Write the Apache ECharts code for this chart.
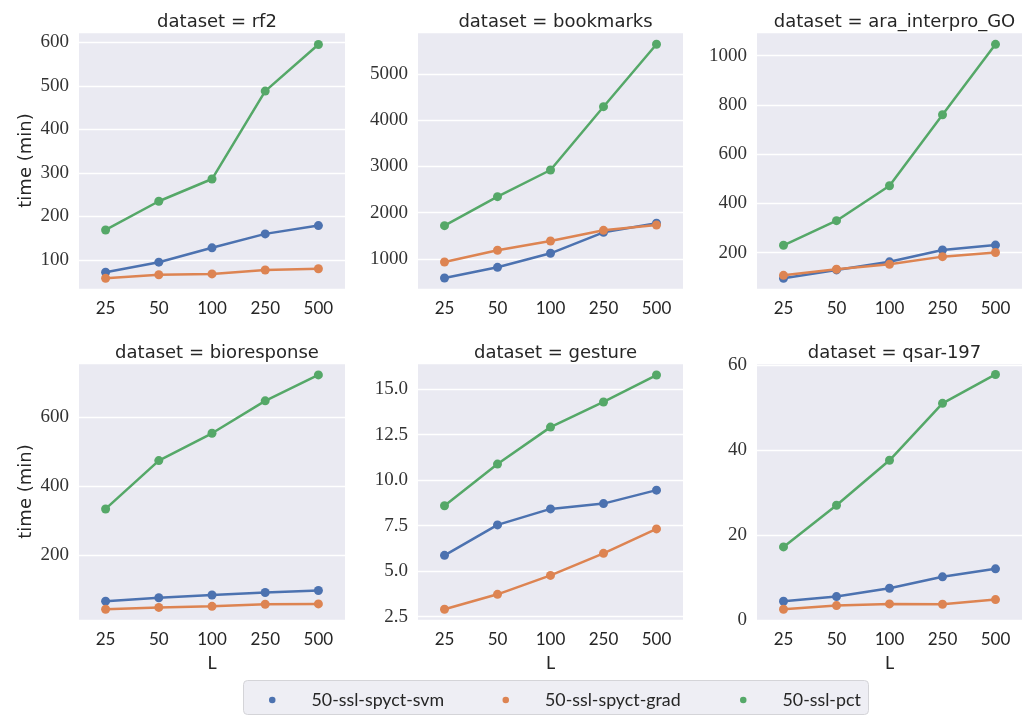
<!DOCTYPE html>
<html>
<head>
<meta charset="utf-8">
<script src="https://cdn.jsdelivr.net/npm/echarts@6/dist/echarts.min.js"></script>
<style>
html,body{margin:0;padding:0;background:#fff;}
#chart{width:1027px;height:715px;}
</style>
</head>
<body>
<div id="chart"></div>
<script>
// ---- data ----
var categories = ['25', '50', '100', '250', '500'];
var datasets = ['rf2', 'bookmarks', 'ara_interpro_GO', 'bioresponse', 'gesture', 'qsar-197'];
var seriesNames = ['50-ssl-spyct-svm', '50-ssl-spyct-grad', '50-ssl-pct'];

var svm_rf2 = [72, 95, 128, 160, 179];
var svm_bookmarks = [589, 820, 1123, 1577, 1772];
var svm_ara = [96, 130, 163, 211, 231];
var svm_bio = [67, 77, 85, 92, 98];
var svm_gesture = [5.87, 7.54, 8.42, 8.71, 9.45];
var svm_qsar = [4.41, 5.51, 7.48, 10.16, 12.05];

var grad_rf2 = [58, 66, 68, 77, 80];
var grad_bookmarks = [935, 1188, 1389, 1620, 1735];
var grad_ara = [108, 133, 153, 184, 201];
var grad_bio = [43.5, 49, 52, 58, 59];
var grad_gesture = [2.91, 3.73, 4.77, 5.98, 7.32];
var grad_qsar = [2.52, 3.39, 3.78, 3.70, 4.80];

var pct_rf2 = [169, 235, 286, 488, 595];
var pct_bookmarks = [1720, 2347, 2924, 4293, 5642];
var pct_ara = [230, 330, 472, 760, 1046];
var pct_bio = [334, 474, 553, 647, 722];
var pct_gesture = [8.59, 10.88, 12.91, 14.29, 15.77];
var pct_qsar = [17.2, 27.0, 37.6, 51.0, 57.8];

// axis limits and tick steps per panel
var yMin = [33.4, 351, 52.6, 12.5, 2.32, 0];
var yMax = [623.7, 5908, 1096, 756.5, 16.43, 60.5];
var yStep = [100, 1000, 200, 200, 2.5, 20];
var yDecimals = [0, 0, 0, 0, 1, 0];

var svmData = [svm_rf2, svm_bookmarks, svm_ara, svm_bio, svm_gesture, svm_qsar];
var gradData = [grad_rf2, grad_bookmarks, grad_ara, grad_bio, grad_gesture, grad_qsar];
var pctData = [pct_rf2, pct_bookmarks, pct_ara, pct_bio, pct_gesture, pct_qsar];

// ---- layout ----
var colors = ['#4C72B0', '#DD8452', '#55A868'];
var colLeft = [79, 418, 757];
var colWidth = [266, 265, 265];
var rowTop = [32, 363];
var plotH = 257;
var sans = "'DejaVu Sans', sans-serif";
var tickSans = "Lato, sans-serif";
var serif = "'Liberation Serif', serif";
var textColor = '#262626';

var grids = [], xAxes = [], yAxes = [], titles = [], series = [];
datasets.forEach(function (ds, i) {
  var r = Math.floor(i / 3), c = i % 3;
  grids.push({left: colLeft[c], top: rowTop[r], width: colWidth[c], height: plotH,
    show: true, backgroundColor: '#EAEAF2', borderWidth: 0, containLabel: false});
  titles.push({text: 'dataset = ' + ds, left: colLeft[c] + colWidth[c] / 2, top: rowTop[r] - 24,
    textAlign: 'center',
    textStyle: {fontFamily: sans, fontSize: 18, fontWeight: 'normal', color: textColor}});
  xAxes.push({type: 'category', gridIndex: i, data: categories, boundaryGap: true,
    axisLine: {show: false}, axisTick: {show: false}, splitLine: {show: false},
    axisLabel: {fontFamily: tickSans, fontSize: 17, color: textColor, margin: 11},
    name: r === 1 ? 'L' : '', nameLocation: 'middle', nameGap: 34,
    nameTextStyle: {fontFamily: tickSans, fontSize: 18, color: textColor}});
  var step = yStep[i], dec = yDecimals[i];
  yAxes.push({type: 'value', gridIndex: i, min: yMin[i], max: yMax[i],
    minInterval: step, maxInterval: step, splitNumber: 5,
    axisLine: {show: false}, axisTick: {show: false},
    splitLine: {show: true, lineStyle: {color: '#ffffff', width: 1.3}},
    axisLabel: {fontFamily: serif, fontSize: 19, color: '#333333', margin: 10,
      formatter: function (v) {
        var k = v / step;
        if (Math.abs(k - Math.round(k)) > 1e-6) return '';
        return (Math.round(k) * step).toFixed(dec);
      }},
    name: c === 0 ? 'time (min)' : '', nameLocation: 'middle', nameGap: 44,
    nameTextStyle: {fontFamily: sans, fontSize: 18, color: textColor}});
  [svmData, gradData, pctData].forEach(function (arr, s) {
    series.push({type: 'line', name: seriesNames[s], xAxisIndex: i, yAxisIndex: i,
      data: arr[i], symbol: 'circle', symbolSize: 9, showSymbol: true,
      lineStyle: {color: colors[s], width: 2.5}, itemStyle: {color: colors[s]},
      emphasis: {disabled: true}, animation: false, z: 2 + s});
  });
});

var legendLefts = [269, 502.5, 740];
var legends = seriesNames.map(function (n, k) {
  return {data: [n], left: legendLefts[k], top: 690, padding: 0, icon: 'circle',
    itemWidth: 6.5, itemHeight: 6.5, selectedMode: false,
    textStyle: {fontFamily: tickSans, fontSize: 17.8, color: textColor, lineHeight: 20,
      padding: [0, 0, 0, 31]}};
});

var chart = echarts.init(document.getElementById('chart'), null, {renderer: 'canvas'});
chart.setOption({
  animation: false,
  color: colors,
  title: titles,
  grid: grids,
  xAxis: xAxes,
  yAxis: yAxes,
  legend: legends,
  graphic: [{type: 'rect', left: 243, top: 680, z: -1,
    shape: {width: 625, height: 34, r: 4},
    style: {fill: '#EEEEF4', stroke: '#D4D4D8', lineWidth: 1}}],
  series: series
});
</script>
</body>
</html>
